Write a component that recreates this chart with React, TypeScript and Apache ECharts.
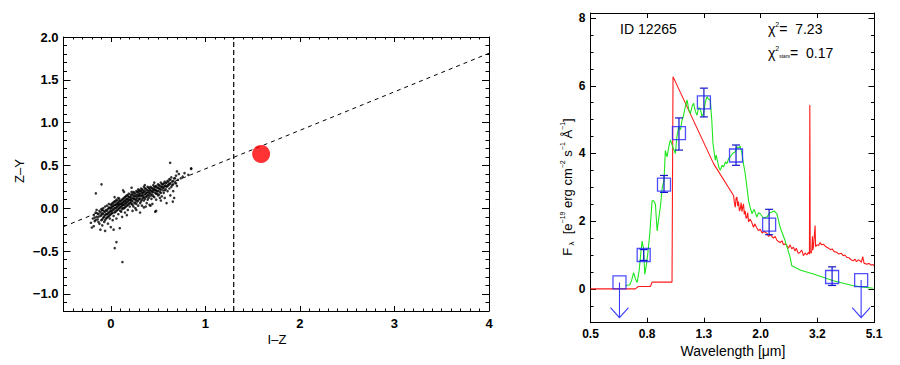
import React, { useEffect, useRef } from 'react';
import * as echarts from 'echarts';

// ---------- Left panel: I-Z vs Z-Y ----------
const IZ_ZY_POINTS: [number, number][] = [
  [-0.19,-0.12],[-0.18,-0.08],[-0.17,-0.15],[-0.16,-0.05],[-0.15,-0.10],[-0.15,-0.02],[-0.14,-0.13],[-0.13,-0.07],
  [-0.12,-0.18],[-0.12,-0.03],[-0.11,-0.09],[-0.10,-0.14],[-0.10,-0.01],[-0.21,-0.17],[-0.18,-0.21],
  [-0.09,-0.06],[-0.08,-0.11],[-0.08,0.00],[-0.07,-0.04],[-0.07,-0.16],[-0.06,-0.08],[-0.05,-0.02],[-0.05,-0.12],
  [-0.04,0.03],[-0.04,-0.07],[-0.03,-0.10],[-0.03,-0.01],[-0.02,-0.05],[-0.02,0.05],[-0.01,-0.08],[-0.01,0.00],
  [0.00,-0.03],[0.00,0.04],[-0.09,-0.20],[-0.06,0.02],[-0.03,-0.18],[-0.11,-0.25],
  [0.01,-0.06],[0.01,0.02],[0.02,0.06],[0.02,-0.01],[0.03,-0.09],[0.03,0.03],[0.04,0.00],[0.04,0.08],[0.05,-0.04],
  [0.05,0.04],[0.06,0.01],[0.06,0.10],[0.07,-0.02],[0.07,0.06],[0.08,0.03],[0.08,-0.07],[0.09,0.08],[0.09,0.00],
  [0.10,0.05],[0.10,-0.03],[0.02,-0.14],[0.06,-0.12],[0.08,0.12],[0.04,0.13],[0.00,-0.22],[0.03,-0.25],
  [0.11,0.02],[0.11,0.09],[0.12,0.06],[0.12,-0.01],[0.13,0.11],[0.13,0.04],[0.14,0.08],[0.14,0.00],[0.15,0.13],
  [0.15,0.05],[0.16,0.02],[0.16,0.10],[0.17,0.07],[0.17,0.15],[0.18,0.04],[0.18,0.11],[0.19,0.09],[0.19,0.17],
  [0.20,0.06],[0.20,0.13],[0.12,-0.10],[0.15,-0.05],[0.18,-0.02],[0.14,0.19],[0.17,-0.08],[0.13,0.21],
  [0.21,0.10],[0.21,0.16],[0.22,0.05],[0.22,0.19],[0.23,0.12],[0.23,0.08],[0.24,0.15],[0.24,0.02],[0.25,0.11],
  [0.25,0.18],[0.26,0.14],[0.26,0.07],[0.27,0.20],[0.27,0.10],[0.28,0.16],[0.28,0.12],[0.29,0.09],[0.29,0.19],
  [0.30,0.14],[0.30,0.21],[0.23,-0.03],[0.26,0.00],[0.29,0.03],[0.22,0.24],
  [0.31,0.11],[0.31,0.17],[0.32,0.20],[0.32,0.08],[0.33,0.15],[0.33,0.22],[0.34,0.12],[0.34,0.18],[0.35,0.25],
  [0.35,0.09],[0.36,0.16],[0.36,0.20],[0.37,0.13],[0.37,0.23],[0.38,0.18],[0.38,0.06],[0.39,0.21],[0.39,0.15],
  [0.40,0.19],[0.40,0.24],[0.33,0.03],[0.37,0.02],[0.36,0.27],[0.39,0.10],
  [0.41,0.14],[0.41,0.21],[0.42,0.17],[0.42,0.25],[0.43,0.20],[0.43,0.11],[0.44,0.23],[0.44,0.16],[0.45,0.19],
  [0.45,0.27],[0.46,0.13],[0.46,0.22],[0.47,0.18],[0.47,0.25],[0.48,0.21],[0.48,0.10],[0.49,0.24],[0.49,0.17],
  [0.50,0.20],[0.50,0.28],[0.44,0.05],[0.47,-0.04],[0.42,0.03],[0.46,0.30],
  [0.51,0.16],[0.51,0.23],[0.52,0.26],[0.52,0.19],[0.53,0.22],[0.53,0.30],[0.54,0.14],[0.54,0.25],[0.55,0.21],
  [0.55,0.28],[0.56,0.24],[0.56,0.18],[0.57,0.31],[0.57,0.26],[0.58,0.22],[0.58,0.29],[0.59,0.25],[0.60,0.20],
  [0.60,0.32],[0.53,0.09],[0.57,0.12],[0.59,0.06],
  [0.61,0.27],[0.62,0.23],[0.62,0.34],[0.63,0.29],[0.64,0.25],[0.64,0.36],[0.65,0.31],[0.66,0.20],[0.66,0.28],
  [0.67,0.35],[0.68,0.30],[0.69,0.38],[0.70,0.26],[0.71,0.33],[0.72,0.40],[0.74,0.35],[0.63,0.15],[0.67,0.12],
  [0.70,0.43],[0.76,0.37],[0.78,0.41],[0.82,0.39],[0.85,0.46],
  [-0.158,0.174],[-0.098,0.279],[0.042,-0.465],[0.06,-0.395],[0.123,-0.628],[-0.06,-0.264],[-0.2,-0.225],
  [0.628,0.531],[0.85,0.465],[0.48,-0.03],[0.656,0.078],[0.095,-0.233],
  [-0.17,-0.11],[-0.16,-0.14],[-0.14,-0.06],[-0.13,-0.16],[-0.13,-0.10],[-0.11,-0.05],[-0.10,-0.08],[-0.09,-0.13],
  [-0.09,-0.02],[-0.08,-0.07],[-0.07,-0.10],[-0.06,-0.14],[-0.06,-0.04],[-0.05,-0.07],[-0.04,-0.11],[-0.04,-0.03],
  [-0.03,-0.06],[-0.02,-0.09],[-0.02,0.01],[-0.01,-0.04],[-0.01,-0.12],[0.00,0.00],[0.00,-0.07],[0.01,-0.03],
  [0.01,0.05],[0.02,0.02],[0.02,-0.05],[0.03,-0.02],[0.03,0.07],[0.04,-0.05],[0.04,0.04],[0.05,0.00],[0.05,0.08],
  [0.06,-0.03],[0.06,0.05],[0.07,0.02],[0.07,0.09],[0.08,0.06],[0.08,-0.01],[0.09,0.04],[0.09,0.11],[0.10,0.01],
  [0.10,0.08],[0.11,0.05],[0.11,-0.04],[0.12,0.10],[0.12,0.03],[0.13,0.07],[0.13,0.00],[0.14,0.12],[0.14,0.04],
  [0.15,0.09],[0.15,0.01],[0.16,0.06],[0.16,0.14],[0.17,0.11],[0.17,0.03],[0.18,0.08],[0.18,0.15],[0.19,0.05],
  [0.19,0.13],[0.20,0.10],[0.20,0.02],[0.21,0.13],[0.21,0.07],[0.22,0.15],[0.22,0.09],[0.23,0.17],[0.23,0.04],
  [0.24,0.11],[0.24,0.19],[0.25,0.14],[0.25,0.06],[0.26,0.17],[0.26,0.10],[0.27,0.14],[0.27,0.05],[0.28,0.19],
  [0.28,0.08],[0.29,0.15],[0.29,0.22],[0.30,0.11],[0.30,0.17],[0.31,0.20],[0.31,0.06],[0.32,0.14],[0.32,0.23],
  [0.33,0.18],[0.33,0.10],[0.34,0.21],[0.34,0.15],[0.35,0.19],[0.35,0.13],[0.36,0.23],[0.36,0.11],[0.37,0.17],
  [0.38,0.21],[0.38,0.14],[0.39,0.25],[0.40,0.16],[0.40,0.12],[0.41,0.23],[0.41,0.18],[0.42,0.21],[0.43,0.15],
  [0.43,0.24],[0.44,0.19],[0.45,0.22],[0.45,0.14],[0.46,0.25],[0.47,0.21],[0.48,0.17],[0.48,0.26],[0.49,0.20],
  [0.50,0.15],[0.50,0.24],[0.51,0.27],[0.52,0.22],[0.53,0.18],[0.54,0.28],[0.55,0.24],[0.56,0.29],[0.57,0.21],
  [0.58,0.26],[0.59,0.30],[0.60,0.26],[0.61,0.31],[0.62,0.28],[0.63,0.33],[0.65,0.27],[0.66,0.32],[0.68,0.35],
  [0.69,0.29],[0.27,-0.02],[0.35,0.01],[0.41,0.04],[0.52,0.12],[0.31,-0.05]
];
const FIT_LINE: [number, number][] = [[-0.5, -0.215], [4, 1.81]];
const CUT_LINE: [number, number][] = [[1.3, -1.2], [1.3, 2.0]];
const TARGET_POINT: [number, number][] = [[1.59, 0.635]];

// ---------- Right panel: SED ----------
const WL_TICKS = ['0.5', '0.8', '1.3', '2.0', '3.2', '5.1'];
const WL_MIN = 0.5;
const WL_MAX = 5.1;

// model 1 (red): [wavelength um, flux]
const MODEL_RED: [number, number][] = [
  [0.5,0],[0.722,0],[0.740,0.07],[0.817,0.07],[0.828,0.2],[0.975,0.2],[0.983,6.27],[1.370,3.70],[1.614,2.76],
  [1.625,2.55],[1.637,2.41],[1.648,2.68],[1.659,2.71],[1.670,2.45],[1.681,2.58],[1.693,2.30],[1.705,2.36],
  [1.717,2.55],[1.729,2.28],[1.740,2.42],[1.751,2.51],[1.763,2.20],[1.776,2.30],[1.788,2.08],[1.801,2.12],
  [1.813,2.25],[1.825,1.98],[1.850,2.06],[1.876,1.95],[1.900,1.82],[1.920,1.92],[1.954,1.80],[1.980,1.72],
  [2.008,1.76],[2.04,1.65],[2.07,1.70],[2.121,1.64],[2.15,1.55],[2.18,1.60],[2.238,1.50],[2.27,1.55],
  [2.301,1.44],[2.33,1.40],[2.364,1.37],[2.40,1.42],[2.43,1.30],[2.463,1.33],[2.498,1.28],[2.53,1.20],
  [2.566,1.30],[2.60,1.18],[2.636,1.23],[2.67,1.12],[2.70,1.20],[2.74,1.05],[2.785,1.08],[2.82,1.15],
  [2.86,0.98],[2.90,1.06],[2.942,1.00],[2.98,1.08],[3.005,1.02],[3.015,5.43],[3.025,1.10],[3.045,1.05],
  [3.064,1.13],[3.08,1.55],[3.09,1.15],[3.104,1.23],[3.148,1.87],[3.16,1.25],[3.20,1.30],[3.24,1.28],
  [3.279,1.37],[3.32,1.30],[3.37,1.32],[3.42,1.26],[3.464,1.23],[3.52,1.20],[3.58,1.15],[3.62,1.18],
  [3.68,1.10],[3.759,1.08],[3.82,1.03],[3.90,1.05],[3.96,0.98],[4.02,1.00],[4.08,0.93],[4.15,0.92],
  [4.22,0.86],[4.306,0.83],[4.36,0.88],[4.42,0.80],[4.48,0.86],[4.548,0.83],[4.60,0.78],[4.65,0.95],
  [4.70,0.76],[4.805,0.73],[4.90,0.75],[4.98,0.70],[5.05,0.72],[5.1,0.68]
];

// model 2 (green): [wavelength um, flux]
const MODEL_GREEN: [number, number][] = [
  [0.666,0.09],[0.690,0.12],[0.700,0.25],[0.712,0.48],[0.722,0.30],[0.733,0.19],[0.745,0.55],[0.755,1.05],
  [0.763,1.41],[0.772,1.20],[0.780,0.43],[0.790,0.70],[0.799,1.02],[0.812,1.60],[0.828,2.60],[0.839,2.60],
  [0.851,2.50],[0.863,1.71],[0.875,2.10],[0.886,2.41],[0.900,3.00],[0.913,3.20],[0.923,4.09],[0.936,3.90],
  [0.950,4.20],[0.962,4.40],[0.980,4.20],[1.002,4.00],[1.015,4.50],[1.029,4.78],[1.045,4.70],[1.058,4.98],
  [1.070,5.10],[1.087,5.38],[1.103,5.58],[1.118,5.30],[1.133,5.18],[1.150,5.40],[1.164,5.48],[1.180,5.25],
  [1.196,5.13],[1.212,5.35],[1.229,5.33],[1.245,5.10],[1.263,5.18],[1.280,5.50],[1.298,5.68],[1.315,5.60],
  [1.334,5.58],[1.350,5.00],[1.364,4.29],[1.390,3.80],[1.400,3.95],[1.409,3.85],[1.430,3.60],[1.448,3.50],
  [1.470,3.65],[1.487,3.60],[1.510,3.75],[1.529,3.70],[1.550,3.85],[1.571,3.90],[1.600,4.00],[1.637,4.05],
  [1.660,4.20],[1.681,4.15],[1.705,4.22],[1.729,4.00],[1.750,3.70],[1.776,3.40],[1.801,3.00],[1.825,2.61],
  [1.850,2.40],[1.876,2.22],[1.910,2.35],[1.954,2.12],[1.980,2.25],[2.008,2.22],[2.060,2.10],[2.121,2.12],
  [2.170,2.25],[2.209,2.27],[2.250,2.30],[2.301,2.22],[2.364,1.82],[2.463,1.42],[2.566,0.93],[2.602,0.68],
  [2.80,0.55],[3.104,0.44],[3.40,0.33],[3.656,0.24],[4.0,0.16],[4.306,0.09],[4.7,0.05],[5.071,0.02]
];

// photometry
const PHOT_WL = [0.634, 0.773, 0.913, 1.032, 1.266, 1.647, 2.16, 3.618, 4.59];
const PHOT_F = [0.19, 1.0, 3.08, 4.6, 5.51, 3.94, 1.9, 0.35, 0.26];
const PHOT_LO = [null, 0.84, 2.85, 4.1, 5.08, 3.65, 1.6, 0.1, null];
const PHOT_HI = [null, 1.16, 3.35, 5.05, 5.93, 4.25, 2.35, 0.65, null];
const PHOT_UPPER = [true, false, false, false, false, false, false, false, true];
const ARROW_END = -0.85;

const LOG_STEP = Math.log10(WL_MAX / WL_MIN) / (WL_TICKS.length - 1);
const toIdx = (w: number) => Math.log10(w / WL_MIN) / LOG_STEP;

const FONT = "'Liberation Sans', Arial, Helvetica, sans-serif";

const App: React.FC = () => {
  const ref = useRef<HTMLDivElement>(null);

  useEffect(() => {
    if (!ref.current) return;
    const chart = echarts.init(ref.current, null, { renderer: 'svg' });

    const leftLabel = { color: '#000', fontSize: 13, fontFamily: FONT, fontWeight: 'bold' as const };
    const rightLabel = { color: '#000', fontSize: 12, fontFamily: FONT, fontWeight: 'bold' as const };
    const boxLine = { show: true, onZero: false, lineStyle: { color: '#000', width: 1 } };
    const noLine = { show: false, onZero: false };

    const minus = (s: string, v: number) => (v < -1e-9 ? '\u2212' + s : s);

    const fmtLeftX = (v: number) => (Math.abs(v - Math.round(v)) < 1e-6 ? String(Math.round(v)) : '');
    const fmtLeftY = (v: number) => {
      const k = Math.round(v * 10);
      if (Math.abs(v * 10 - k) > 1e-6 || k % 5 !== 0) return '';
      return minus(Math.abs(v).toFixed(1), v);
    };
    const fmtRightX = (v: number) => {
      const k = Math.round(v);
      return Math.abs(v - k) < 1e-6 && WL_TICKS[k] !== undefined ? WL_TICKS[k] : '';
    };
    const fmtRightY = (v: number) => {
      const k = Math.round(v * 2);
      if (Math.abs(v * 2 - k) > 1e-6 || k % 4 !== 0) return '';
      return String(Math.round(v));
    };

    const leftGrid = { left: 63.5, top: 37, width: 425.5, height: 274 };
    const rightGrid = { left: 590.5, top: 13, width: 283.5, height: 309.7 };

    const tick = (len: number) => ({ show: true, inside: true, length: len, lineStyle: { color: '#000', width: 1 } });

    const mk = (extra: any) => ({
      type: 'value',
      splitLine: { show: false },
      axisTick: tick(3),
      axisLabel: { show: false },
      axisLine: noLine,
      ...extra,
    });

    const xAxis = [
      // 0,1: left panel minor ticks + labels, box
      mk({ gridIndex: 0, position: 'bottom', min: -0.5, max: 4, interval: 0.1, axisLine: boxLine, axisTick: tick(2.5),
        axisLabel: { show: true, formatter: fmtLeftX, margin: 6, ...leftLabel } }),
      mk({ gridIndex: 0, position: 'top', min: -0.5, max: 4, interval: 0.1, axisLine: boxLine, axisTick: tick(2.5) }),
      // 2,3: left panel major ticks
      mk({ gridIndex: 1, position: 'bottom', min: -0.5, max: 4, splitNumber: 5, axisTick: tick(5) }),
      mk({ gridIndex: 1, position: 'top', min: -0.5, max: 4, splitNumber: 5, axisTick: tick(5) }),
      // 4,5: right panel
      mk({ gridIndex: 2, position: 'bottom', min: 0, max: WL_TICKS.length - 1, interval: 1, axisLine: boxLine, axisTick: tick(5),
        axisLabel: { show: true, formatter: fmtRightX, margin: 5, ...rightLabel } }),
      mk({ gridIndex: 2, position: 'top', min: 0, max: WL_TICKS.length - 1, interval: 1, axisLine: boxLine, axisTick: tick(5) }),
      // 6: grid 3 placeholder x axis
      mk({ gridIndex: 3, position: 'bottom', min: 0, max: WL_TICKS.length - 1, interval: 1, axisTick: { show: false } }),
    ];

    const yAxis = [
      mk({ gridIndex: 0, position: 'left', min: -1.2, max: 2.0, interval: 0.1, axisLine: boxLine, axisTick: tick(3.5),
        axisLabel: { show: true, formatter: fmtLeftY, margin: 5, ...leftLabel } }),
      mk({ gridIndex: 0, position: 'right', min: -1.2, max: 2.0, interval: 0.1, axisLine: boxLine, axisTick: tick(3.5) }),
      mk({ gridIndex: 1, position: 'left', min: -1.2, max: 2.0, splitNumber: 6, axisTick: tick(7) }),
      mk({ gridIndex: 1, position: 'right', min: -1.2, max: 2.0, splitNumber: 6, axisTick: tick(7) }),
      mk({ gridIndex: 2, position: 'left', min: -1, max: 8.15, interval: 0.5, axisLine: boxLine, axisTick: tick(3),
        axisLabel: { show: true, formatter: fmtRightY, margin: 5, ...rightLabel } }),
      mk({ gridIndex: 2, position: 'right', min: -1, max: 8.15, interval: 0.5, axisLine: boxLine, axisTick: tick(3) }),
      mk({ gridIndex: 3, position: 'left', min: -1, max: 8.15, splitNumber: 5, axisTick: tick(5.5) }),
      mk({ gridIndex: 3, position: 'right', min: -1, max: 8.15, splitNumber: 5, axisTick: tick(5.5) }),
    ];

    const errData = PHOT_WL.map((w, i) => (PHOT_UPPER[i] ? null : [toIdx(w), PHOT_LO[i], PHOT_HI[i]]))
      .filter((d) => d !== null);
    const arrowData = PHOT_WL.map((w, i) => (PHOT_UPPER[i] ? [toIdx(w), PHOT_F[i], ARROW_END] : null))
      .filter((d) => d !== null);

    const option: any = {
      animation: false,
      backgroundColor: '#fff',
      grid: [leftGrid, leftGrid, rightGrid, rightGrid].map((g) => ({ ...g, containLabel: false })),
      xAxis,
      yAxis,
      series: [
        {
          type: 'scatter', xAxisIndex: 0, yAxisIndex: 0, data: IZ_ZY_POINTS,
          symbol: 'circle', symbolSize: 2.6, itemStyle: { color: '#000' }, silent: true,
        },
        {
          type: 'line', xAxisIndex: 0, yAxisIndex: 0, data: FIT_LINE, symbol: 'none',
          lineStyle: { color: '#000', width: 1, type: [4, 4] }, silent: true,
        },
        {
          type: 'line', xAxisIndex: 0, yAxisIndex: 0, data: CUT_LINE, symbol: 'none',
          lineStyle: { color: '#000', width: 1.2, type: [5, 3] }, silent: true,
        },
        {
          type: 'scatter', xAxisIndex: 0, yAxisIndex: 0, data: TARGET_POINT,
          symbol: 'circle', symbolSize: 18, itemStyle: { color: '#ff0000' }, silent: true, z: 5,
        },
        // right panel
        {
          type: 'line', xAxisIndex: 4, yAxisIndex: 4, data: MODEL_RED.map(([w, f]) => [toIdx(w), f]),
          symbol: 'none', lineStyle: { color: '#ff1a1a', width: 1.1 }, silent: true, z: 2,
        },
        {
          type: 'line', xAxisIndex: 4, yAxisIndex: 4, data: MODEL_GREEN.map(([w, f]) => [toIdx(w), f]),
          symbol: 'none', lineStyle: { color: '#1ee61e', width: 1.1 }, silent: true, z: 3,
        },
        {
          type: 'custom', xAxisIndex: 4, yAxisIndex: 4, data: errData, silent: true, z: 4,
          encode: { x: 0, y: [1, 2] },
          renderItem: (_p: any, api: any) => {
            const x = api.value(0);
            const a = api.coord([x, api.value(1)]);
            const b = api.coord([x, api.value(2)]);
            const w = 4;
            const st = { stroke: '#1515c8', lineWidth: 1.2 };
            return {
              type: 'group',
              children: [
                { type: 'line', shape: { x1: a[0], y1: a[1], x2: b[0], y2: b[1] }, style: st },
                { type: 'line', shape: { x1: a[0] - w, y1: a[1], x2: a[0] + w, y2: a[1] }, style: st },
                { type: 'line', shape: { x1: b[0] - w, y1: b[1], x2: b[0] + w, y2: b[1] }, style: st },
              ],
            };
          },
        },
        {
          type: 'custom', xAxisIndex: 4, yAxisIndex: 4, data: arrowData, silent: true, z: 4,
          encode: { x: 0, y: [1, 2] },
          renderItem: (_p: any, api: any) => {
            const x = api.value(0);
            const a = api.coord([x, api.value(1)]);
            const b = api.coord([x, api.value(2)]);
            const st = { stroke: '#3a3aff', lineWidth: 1.1, fill: 'none' };
            return {
              type: 'group',
              children: [
                { type: 'line', shape: { x1: a[0], y1: a[1], x2: b[0], y2: b[1] }, style: st },
                { type: 'polyline', shape: { points: [[b[0] - 9, b[1] - 10], [b[0], b[1]], [b[0] + 9, b[1] - 10]] }, style: st },
              ],
            };
          },
        },
        {
          type: 'scatter', xAxisIndex: 4, yAxisIndex: 4,
          data: PHOT_WL.map((w, i) => [toIdx(w), PHOT_F[i]]),
          symbol: 'rect', symbolSize: 13, silent: true, z: 6,
          itemStyle: { color: 'rgba(0,0,0,0)', borderColor: '#2222ff', borderWidth: 1.3 },
        },
      ],
      graphic: [
        {
          type: 'text', x: 19, y: 171, rotation: Math.PI / 2,
          style: { text: 'Z\u2013Y', font: `13px ${FONT}`, fill: '#000', align: 'center', verticalAlign: 'middle' },
        },
        {
          type: 'text', x: 277, y: 339,
          style: { text: 'I\u2013Z', font: `13px ${FONT}`, fill: '#000', align: 'center', verticalAlign: 'middle' },
        },
        {
          type: 'text', x: 733, y: 351,
          style: { text: 'Wavelength [\u03bcm]', font: `14px ${FONT}`, fill: '#000', align: 'center', verticalAlign: 'middle' },
        },
        {
          type: 'text', x: 567, y: 187, rotation: Math.PI / 2,
          style: {
            text: '{a|F}{b| \u03bb}{a|  [e}{s|\u221219}{a| erg cm}{s|\u22122}{a| s}{s|\u22121}{a| \u00c5}{s|\u22121}{a|]}',
            align: 'center', verticalAlign: 'middle', fill: '#000',
            rich: {
              a: { fontSize: 13, fontFamily: FONT, lineHeight: 16, verticalAlign: 'middle', fill: '#000' },
              b: { fontSize: 8, fontFamily: FONT, lineHeight: 16, verticalAlign: 'bottom', fill: '#000' },
              s: { fontSize: 7, fontFamily: FONT, lineHeight: 16, verticalAlign: 'top', fill: '#000' },
            },
          },
        },
        {
          type: 'text', x: 620, y: 29,
          style: { text: 'ID 12265', font: `14px ${FONT}`, fill: '#000', align: 'left', verticalAlign: 'middle' },
        },
        {
          type: 'text', x: 768, y: 29,
          style: {
            text: '{a|\u03c7}{s|2}{a|=  7.23}', align: 'left', verticalAlign: 'middle', fill: '#000',
            rich: {
              a: { fontSize: 14, fontFamily: FONT, lineHeight: 17, verticalAlign: 'middle', fill: '#000' },
              s: { fontSize: 7, fontFamily: FONT, lineHeight: 17, verticalAlign: 'top', fill: '#000' },
            },
          },
        },
        {
          type: 'text', x: 768, y: 53,
          style: {
            text: '{a|\u03c7}{s|2}{t|stars}{a|=  0.17}', align: 'left', verticalAlign: 'middle', fill: '#000',
            rich: {
              a: { fontSize: 14, fontFamily: FONT, lineHeight: 17, verticalAlign: 'middle', fill: '#000' },
              s: { fontSize: 7, fontFamily: FONT, lineHeight: 17, verticalAlign: 'top', fill: '#000' },
              t: { fontSize: 5, fontFamily: FONT, lineHeight: 17, verticalAlign: 'bottom', fill: '#000', padding: [0, 0, 3, 0] },
            },
          },
        },
      ],
    };

    chart.setOption(option);
    return () => chart.dispose();
  }, []);

  return (
    <div
      ref={ref}
      style={{ position: 'fixed', left: 0, top: 0, width: 900, height: 365, background: '#fff' }}
    />
  );
};

export default App;
